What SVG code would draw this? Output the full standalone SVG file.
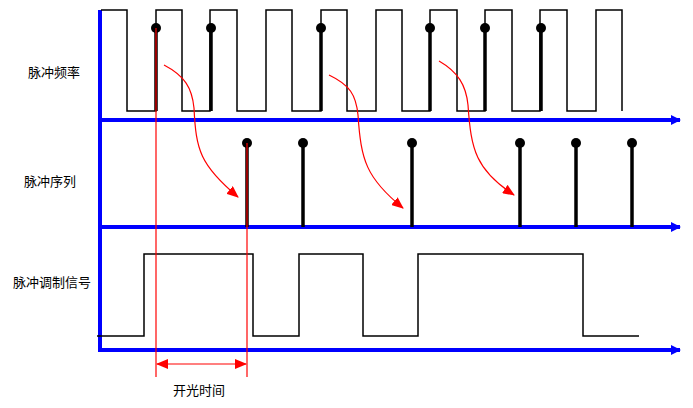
<svg xmlns="http://www.w3.org/2000/svg" width="693" height="408" viewBox="0 0 693 408">
<defs>
<style>
.ax{stroke:#0000ff;stroke-width:4;fill:none}
.wave{stroke:#000;stroke-width:1.5;fill:none}
.stem{stroke:#000;stroke-width:3.5}
.dot{fill:#000}
.red{stroke:#ff0000;stroke-width:1.2;fill:none}
.lbl{font-family:"Liberation Sans","Noto Sans CJK SC",sans-serif;font-size:13px;fill:#000}
</style>
<marker id="ba" markerWidth="10" markerHeight="10" refX="9" refY="5" orient="auto" markerUnits="userSpaceOnUse">
<path d="M0,0 L10,5 L0,10 Z" fill="#0000ff"/>
</marker>
<marker id="ra" markerWidth="12" markerHeight="10" refX="11" refY="5" orient="auto" markerUnits="userSpaceOnUse">
<path d="M0,0 L12,5 L0,10 Z" fill="#ff0000"/>
</marker>
<marker id="rs" markerWidth="12" markerHeight="10" refX="1" refY="5" orient="auto" markerUnits="userSpaceOnUse">
<path d="M12,0 L0,5 L12,10 Z" fill="#ff0000"/>
</marker>
</defs>
<rect width="693" height="408" fill="#fff"/>

<g id="axes">
<line class="ax" x1="100" y1="10" x2="100" y2="352"/>
<line class="ax" x1="100" y1="120" x2="680" y2="120" marker-end="url(#ba)"/>
<line class="ax" x1="100" y1="227" x2="680" y2="227" marker-end="url(#ba)"/>
<line class="ax" x1="100" y1="350" x2="680" y2="350" marker-end="url(#ba)"/>
</g>

<g id="pulse-frequency">
<path class="wave" d="M101,10 H127 V111 H156 V10 H182 V111 H210 V10 H237 V111 H266 V10 H292 V111 H321 V10 H347 V111 H376 V10 H402 V111 H430 V10 H457 V111 H485 V10 H512 V111 H540 V10 H567 V111 H596 V10 H622 V111"/>
<g>
<line class="stem" x1="156" y1="28" x2="156" y2="111"/><circle class="dot" cx="156" cy="28" r="5"/>
<line class="stem" x1="211" y1="28" x2="211" y2="111"/><circle class="dot" cx="211" cy="28" r="5"/>
<line class="stem" x1="321" y1="28" x2="321" y2="111"/><circle class="dot" cx="321" cy="28" r="5"/>
<line class="stem" x1="430" y1="28" x2="430" y2="111"/><circle class="dot" cx="430" cy="28" r="5"/>
<line class="stem" x1="485" y1="28" x2="485" y2="111"/><circle class="dot" cx="485" cy="28" r="5"/>
<line class="stem" x1="541" y1="28" x2="541" y2="111"/><circle class="dot" cx="541" cy="28" r="5"/>
</g>
</g>

<g id="pulse-sequence">
<line class="stem" x1="247" y1="143" x2="247" y2="227"/><circle class="dot" cx="247" cy="143" r="5"/>
<line class="stem" x1="303" y1="143" x2="303" y2="227"/><circle class="dot" cx="303" cy="143" r="5"/>
<line class="stem" x1="412" y1="143" x2="412" y2="227"/><circle class="dot" cx="412" cy="143" r="5"/>
<line class="stem" x1="520" y1="143" x2="520" y2="227"/><circle class="dot" cx="520" cy="143" r="5"/>
<line class="stem" x1="576" y1="143" x2="576" y2="227"/><circle class="dot" cx="576" cy="143" r="5"/>
<line class="stem" x1="632" y1="143" x2="632" y2="227"/><circle class="dot" cx="632" cy="143" r="5"/>
</g>

<g id="pwm-signal">
<path class="wave" d="M97,336 H144 V254 H253 V336 H299 V254 H363 V336 H418 V254 H583 V336 H639"/>
</g>

<g id="connectors">
<path class="red" d="M164,65 C185,76 192,88 194,108 C196,150 200,165 238,197" marker-end="url(#ra)"/>
<path class="red" d="M329,75 C350,85 356,95 358,115 C361,160 366,178 403,208" marker-end="url(#ra)"/>
<path class="red" d="M439,61 C458,72 466,85 468,105 C471,150 476,170 514,195" marker-end="url(#ra)"/>
<line class="red" x1="156" y1="28" x2="156" y2="377"/>
<line class="red" x1="247" y1="143" x2="247" y2="377"/>
<line class="red" x1="157" y1="364" x2="246" y2="364" stroke-width="2" marker-start="url(#rs)" marker-end="url(#ra)"/>
</g>

<g id="labels">
<text class="lbl" x="28" y="77">脉冲频率</text>
<text class="lbl" x="24" y="186">脉冲序列</text>
<text class="lbl" x="13" y="287">脉冲调制信号</text>
<text class="lbl" x="173" y="395">开光时间</text>
</g>
</svg>
